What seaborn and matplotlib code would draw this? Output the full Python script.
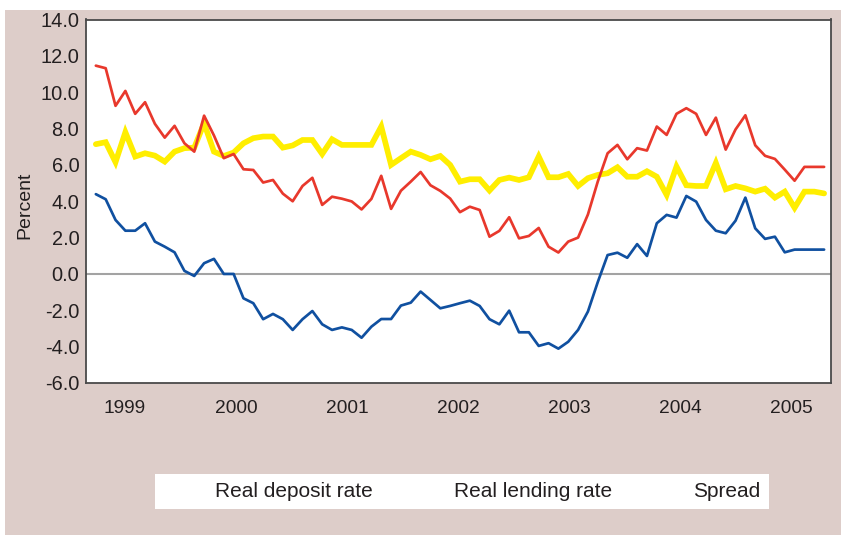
import numpy as np
import matplotlib
matplotlib.use("Agg")
import matplotlib.pyplot as plt
from matplotlib import font_manager
from matplotlib.patches import Rectangle
import seaborn as sns

# Year labels along the time axis
years = ["1999", "2000", "2001", "2002", "2003", "2004", "2005"]

# Monthly series, percent
deposit = [4.39, 4.11, 2.97, 2.38, 2.38, 2.79, 1.78, 1.50, 1.19, 0.17,
           -0.11, 0.59, 0.83, 0.00, 0.00, -1.34, -1.61, -2.49, -2.20, -2.49,
           -3.08, -2.49, -2.04, -2.77, -3.08, -2.94, -3.08, -3.51, -2.90, -2.48,
           -2.48, -1.74, -1.58, -0.97, -1.43, -1.89, -1.76, -1.61, -1.47, -1.76,
           -2.49, -2.77, -2.02, -3.21, -3.21, -3.96, -3.81, -4.11, -3.73, -3.08,
           -2.07, -0.45, 1.04, 1.17, 0.89, 1.64, 0.99, 2.79, 3.25, 3.10,
           4.29, 3.98, 2.97, 2.38, 2.24, 2.93, 4.20, 2.51, 1.93, 2.05,
           1.19, 1.34, 1.34, 1.34, 1.34]

lending = [11.46, 11.32, 9.25, 10.07, 8.81, 9.45, 8.26, 7.50, 8.15, 7.19,
           6.73, 8.71, 7.62, 6.37, 6.60, 5.76, 5.72, 5.03, 5.17, 4.42,
           4.00, 4.84, 5.29, 3.80, 4.25, 4.14, 3.99, 3.55, 4.13, 5.40,
           3.58, 4.58, 5.08, 5.61, 4.88, 4.57, 4.15, 3.40, 3.70, 3.52,
           2.05, 2.37, 3.12, 1.96, 2.09, 2.53, 1.50, 1.18, 1.78, 2.00,
           3.27, 5.08, 6.64, 7.10, 6.31, 6.92, 6.79, 8.11, 7.65, 8.81,
           9.12, 8.81, 7.65, 8.60, 6.84, 7.95, 8.73, 7.08, 6.50, 6.33,
           5.74, 5.13, 5.89, 5.89, 5.89]

spread = [7.14, 7.25, 6.15, 7.80, 6.46, 6.64, 6.51, 6.18, 6.73, 6.92,
          6.95, 8.29, 6.73, 6.49, 6.68, 7.19, 7.47, 7.56, 7.56, 6.95,
          7.07, 7.37, 7.37, 6.60, 7.41, 7.10, 7.10, 7.10, 7.10, 8.11,
          6.00, 6.37, 6.73, 6.55, 6.31, 6.49, 6.00, 5.08, 5.21, 5.21,
          4.59, 5.17, 5.30, 5.17, 5.32, 6.46, 5.32, 5.32, 5.50, 4.84,
          5.27, 5.45, 5.54, 5.87, 5.35, 5.35, 5.65, 5.35, 4.35, 5.91,
          4.88, 4.84, 4.84, 6.11, 4.66, 4.84, 4.71, 4.53, 4.69, 4.20,
          4.53, 3.64, 4.53, 4.53, 4.43]

series_names = ["Real deposit rate", "Real lending rate", "Spread"]

# Colours
panel_bg = "#DDCDC9"
red = "#E8382C"
yellow = "#FFEE00"
blue = "#1050A0"
zero_grey = "#A3A3A3"
text_c = "#231F20"
frame_c = "#4A4A4A"

sns.set_theme(style="white")
plt.rcParams["font.family"] = ["Liberation Sans", "DejaVu Sans"]

available = {f.name for f in font_manager.fontManager.ttflist}
has_narrow = "Liberation Sans Narrow" in available
year_family = ["Liberation Sans Narrow", "Liberation Sans"] if has_narrow else ["Liberation Sans"]
year_size = 15 if has_narrow else 13.8

W, H = 841, 538
fig = plt.figure(figsize=(W / 100, H / 100), dpi=100)
fig.patch.set_facecolor("white")
fig.add_artist(Rectangle((5 / W, 3 / H), 1 - 5 / W, (H - 9.5 - 3) / H,
                         transform=fig.transFigure, facecolor=panel_bg,
                         edgecolor="none", zorder=-1))

ax = fig.add_axes([86 / W, (H - 383) / H, (831 - 86) / W, (383 - 19.5) / H])
ax.set_facecolor("white")

months = np.arange(len(deposit))

sns.lineplot(x=months, y=spread, ax=ax, color=yellow, linewidth=4.1,
             label=series_names[2], zorder=2, solid_joinstyle="miter")
sns.lineplot(x=months, y=lending, ax=ax, color=red, linewidth=1.95,
             label=series_names[1], zorder=3)
sns.lineplot(x=months, y=deposit, ax=ax, color=blue, linewidth=1.95,
             label=series_names[0], zorder=4)

ax.axhline(0, color=zero_grey, linewidth=1.5, zorder=1)

ax.set_xlim(-1.0, 74.7)
ax.set_ylim(-6, 14)

yt = np.arange(-6, 15, 2)
ax.set_yticks(yt)
ax.set_yticklabels([f"{v:.1f}" for v in yt])
ax.tick_params(axis="y", length=0, pad=4.8, labelsize=14.4, labelcolor=text_c)

first_year_pos, year_step = 2.95, 11.28
ax.set_xticks([first_year_pos + i * year_step for i in range(len(years))])
ax.set_xticklabels(years, family=year_family, fontsize=year_size, color=text_c)
ax.tick_params(axis="x", length=0, pad=12)

ax.set_xlabel("")
ax.set_ylabel("Percent", fontsize=14, color=text_c)
ax.yaxis.set_label_coords((33.3 - 86) / 745, 0.49)

for side in ["left", "right", "top", "bottom"]:
    ax.spines[side].set_visible(True)
    ax.spines[side].set_color(frame_c)
    ax.spines[side].set_linewidth(1.3)

handles, labels = ax.get_legend_handles_labels()
ax.get_legend().remove()
order = [labels.index(n) for n in series_names]
leg = fig.legend([handles[i] for i in order], [labels[i] for i in order],
                 ncol=3, mode="expand", loc="center",
                 bbox_to_anchor=(155 / W, 26 / H, 614 / W, 41 / H),
                 bbox_transform=fig.transFigure, borderaxespad=0,
                 frameon=True, fancybox=False, borderpad=0.4,
                 handlelength=1.85, handletextpad=0.65,
                 prop={"size": 15})
leg.get_frame().set_facecolor("white")
leg.get_frame().set_edgecolor("none")
leg.get_frame().set_alpha(1)
for t in leg.get_texts():
    t.set_color(text_c)
for h in leg.legend_handles:
    h.set_visible(False)

fig.savefig("out.png", dpi=100)
